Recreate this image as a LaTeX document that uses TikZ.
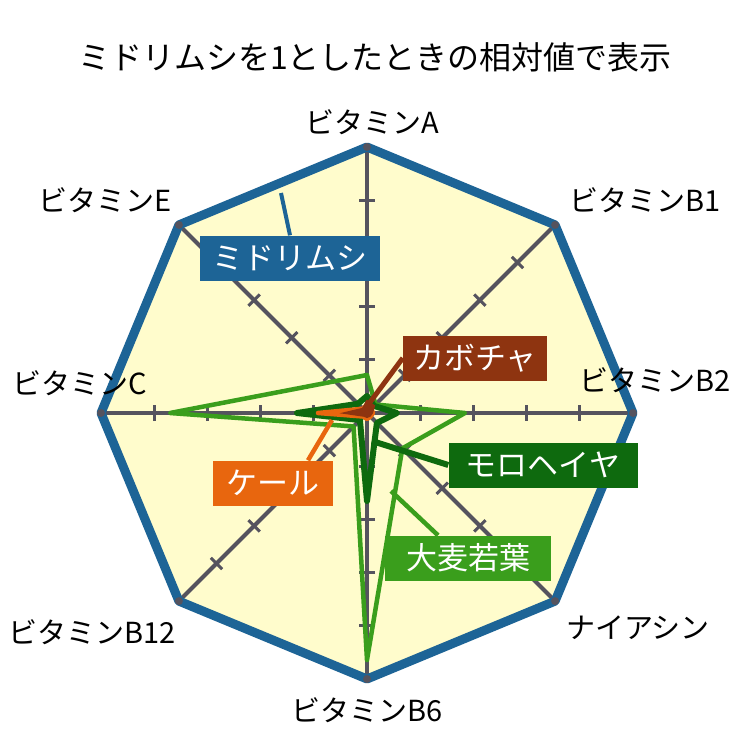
\documentclass[tikz,border=0pt]{standalone}
\usepackage{fontspec}
\setmainfont{Noto Sans CJK JP}[BoldFont={Noto Sans CJK JP Bold}]
\usetikzlibrary{calc}
\begin{document}
\begin{tikzpicture}[x=1pt,y=1pt,
  axl/.style={font=\fontsize{29}{29}\selectfont},
  tag/.style={font=\fontsize{31}{31}\selectfont,text=white,inner sep=2pt,minimum height=45pt},
  poly/.style={line width=4.5pt,line join=round}]
\useasboundingbox (0,0) rectangle (750,-750);
\fill[white] (0,0) rectangle (750,-750);
\definecolor{mblue}{HTML}{1D6496}
\definecolor{kbrown}{HTML}{8E3410}
\definecolor{mgreen}{HTML}{0E6A0E}
\definecolor{lgreen}{HTML}{3A9E1C}
\definecolor{korange}{HTML}{E8660E}
\definecolor{axg}{HTML}{55535E}
\node[font=\fontsize{32}{32}\selectfont] (title) at (375,-57) {ミドリムシを1としたときの相対値で表示};
\begin{scope}[shift={(367,-413)}]
\coordinate (O) at (0,0);
\fill[yellow!20] (90:266) \foreach \a in {45,0,-45,-90,-135,180,135}{-- (\a:266)} -- cycle;
\foreach \a in {90,45,0,-45,-90,-135,180,135}{
  \draw[axg,line width=4pt] (O) -- (\a:266);
  \foreach \t in {53.2,106.4,159.6,212.8}{
    \draw[axg,line width=3pt] ($(\a:\t)+(\a+90:8)$) -- ($(\a:\t)+(\a-90:8)$);}
}
% light green
\draw[lgreen,poly] (90:38) -- (45:12) -- (0:98) -- (-45:50) -- (-90:247) -- (-135:19) -- (180:197) -- (135:45) -- cycle;
% moroheiya
\draw[mgreen,poly,line width=6pt] (90:17) -- (45:10) -- (0:30) -- (-45:14) -- (-90:88) -- (-135:10) -- (180:70) -- (135:13) -- cycle;
% kale
\draw[korange,poly] (90:8) -- (45:6) -- (0:6) -- (-45:5) -- (-90:6) -- (-135:5) -- (180:49) -- (135:6) -- cycle;
% kabocha
\fill[kbrown,draw=kbrown,line width=2pt] (90:12) -- (45:10) -- (0:5) -- (-45:4) -- (-90:4) -- (-135:4) -- (180:22) -- (135:6) -- cycle;
% midorimushi
\draw[mblue,line width=9pt,line join=round] (90:266) \foreach \a in {45,0,-45,-90,-135,180,135}{-- (\a:266)} -- cycle;
\foreach \a in {90,45,0,-45,-90,-135,180,135}{\fill[axg] (\a:266) circle (4pt);}
\end{scope}
\node[axl] (lA) at (372,-122) {ビタミンA};
\node[axl] (lB1) at (645,-200) {ビタミンB1};
\node[axl] (lB2) at (655,-380) {ビタミンB2};
\node[axl] (lN) at (638,-628) {ナイアシン};
\node[axl] (lB6) at (367,-710) {ビタミンB6};
\node[axl] (lB12) at (92,-632) {ビタミンB12};
\node[axl] (lC) at (80,-383) {ビタミンC};
\node[axl] (lE) at (105,-200) {ビタミンE};
\coordinate (pm) at (281,-193);
\coordinate (pk) at (368,-405);
\coordinate (pmo) at (372,-441);
\coordinate (pl) at (391,-491);
\coordinate (pka) at (332,-420);
\node[tag,fill=mblue,minimum width=180pt] (tm) at (290,-258) {ミドリムシ};
\node[tag,fill=kbrown,minimum width=144pt] (tk) at (475,-358) {カボチャ};
\node[tag,fill=mgreen,minimum width=189pt] (tmo) at (543,-465) {モロヘイヤ};
\node[tag,fill=lgreen,minimum width=166pt] (tl) at (468,-558) {大麦若葉};
\node[tag,fill=korange,minimum width=120pt] (tka) at (273,-483) {ケール};
\draw[mblue,line width=4pt] (pm) -- (tm.north);
\draw[kbrown,line width=5pt] (pk) -- (tk.west);
\draw[mgreen,line width=6pt] (pmo) -- (tmo.west);
\draw[lgreen,line width=4.5pt] (pl) -- ([xshift=-30pt]tl.north);
\draw[korange,line width=4.5pt] (pka) -- ([xshift=35pt]tka.north);
\end{tikzpicture}
\end{document}
